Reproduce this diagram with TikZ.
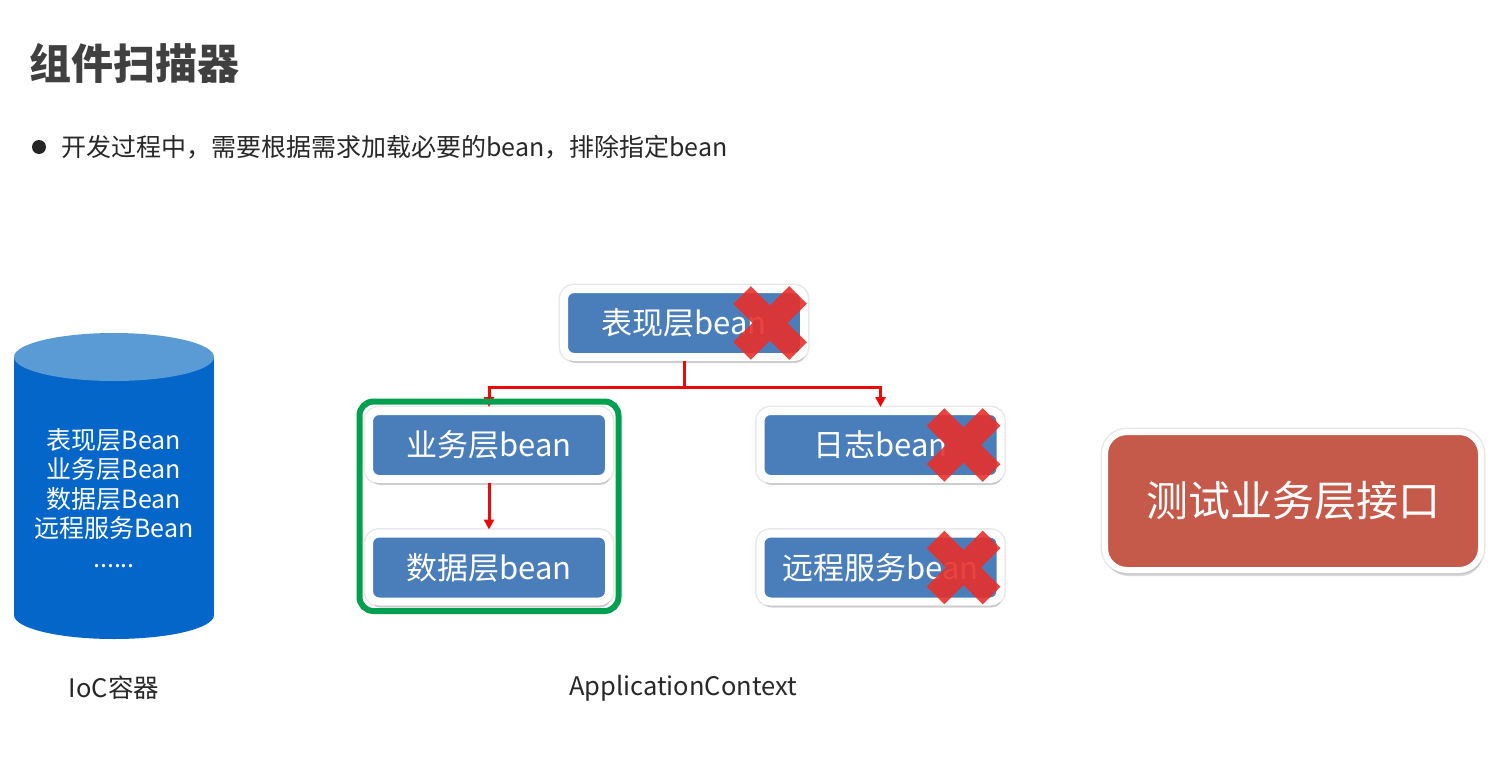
\documentclass[tikz,border=0pt]{standalone}
\usepackage{fontspec}
\setmainfont{Noto Sans CJK SC}
\usetikzlibrary{arrows.meta,shadows,fit}
\definecolor{boxblue}{RGB}{74,126,187}
\definecolor{boxred}{RGB}{197,90,74}
\definecolor{cylside}{RGB}{4,102,200}
\definecolor{cyltop}{RGB}{91,155,213}
\definecolor{framegreen}{RGB}{0,160,80}
\definecolor{arrred}{RGB}{235,10,10}
\definecolor{crossred}{RGB}{232,48,44}
\definecolor{titlegray}{RGB}{64,64,64}
\definecolor{textgray}{RGB}{40,40,40}
\tikzset{
  bluebox/.style={fill=boxblue, draw=white, line width=8pt, rounded corners=10pt,
    minimum width=240pt, minimum height=68pt, text=white, inner sep=0pt,
    font=\fontsize{31}{36}\selectfont,
    preaction={draw=black!9, line width=11pt},
    drop shadow={shadow xshift=1.5pt, shadow yshift=-6pt, opacity=0.3}},
  redbox/.style={fill=boxred, draw=white, line width=6pt, rounded corners=22pt,
    minimum width=376pt, minimum height=138pt, text=white, inner sep=0pt,
    font=\fontsize{42}{48}\selectfont,
    preaction={draw=black!9, line width=9pt},
    drop shadow={shadow xshift=1.5pt, shadow yshift=-6pt, opacity=0.3}},
  redline/.style={draw=arrred, line width=3pt},
  redarr/.style={redline, -{Triangle[length=10pt,width=10pt]}},
  crossmark/.style={draw=crossred, line width=25pt, opacity=0.9},
  labeltext/.style={text=textgray, inner sep=0pt, font=\fontsize{25.5}{30}\selectfont},
}
\begin{document}
\begin{tikzpicture}[x=1pt,y=-1pt]
\useasboundingbox[fill=white] (0,0) rectangle (1498,771);

% title and bullet
\node[anchor=west, inner sep=0pt, text=titlegray, font=\fontsize{42}{50}\selectfont\bfseries] (title) at (29,63) {组件扫描器};
\node[circle, fill=black!85, minimum size=14pt, inner sep=0pt] (dot) at (39,147) {};
\node[anchor=west, inner sep=0pt, text=textgray, font=\fontsize{25}{29}\selectfont] (bullet) at (61,147) {开发过程中，需要根据需求加载必要的bean，排除指定bean};

% cylinder (IoC container)
\fill[cylside] (114,615) ellipse [x radius=100, y radius=24];
\fill[cylside] (14,357) rectangle (214,615);
\fill[cyltop] (114,357) ellipse [x radius=100, y radius=24];
\node[text=white, align=center, inner sep=0pt, font=\fontsize{25}{29.5}\selectfont] (cyltext) at (114,498)
  {表现层Bean\\业务层Bean\\数据层Bean\\远程服务Bean\\......};

% bean boxes
\node[bluebox] (top) at (684,323) {表现层bean};
\node[bluebox] (biz) at (489,445) {业务层bean};
\node[bluebox] (data) at (489,567.5) {数据层bean};
\node[bluebox] (log) at (880.5,445) {日志bean};
\node[bluebox] (remote) at (880.5,567.5) {远程服务bean};

% test box
\node[redbox] (test) at (1293,501) {测试业务层接口};

% connectors
\coordinate (split) at (684,387);
\draw[redline] (top.south) -- (split);
\draw[redarr] (split) -| (biz.north);
\draw[redarr] (split) -| (log.north);
\draw[redarr] (biz.south) -- (data.north);

% green frame
\node[draw=framegreen, line width=6pt, rounded corners=14pt, fit=(biz)(data), inner sep=5.5pt] (frame) {};

% crosses
\path (top.east) ++(-38,0) coordinate (c1);
\path (log.east) ++(-41,0) coordinate (c2);
\path (remote.east) ++(-41,0) coordinate (c3);
\foreach \c in {c1,c2,c3}{
  \draw[crossmark] (\c) +(-28,-28) -- +(28,28) (\c) +(28,-28) -- +(-28,28);
}

% bottom labels
\node[labeltext] (ioc) at (114,688) {IoC容器};
\node[labeltext] (ac) at (683,688) {ApplicationContext};
\end{tikzpicture}
\end{document}
